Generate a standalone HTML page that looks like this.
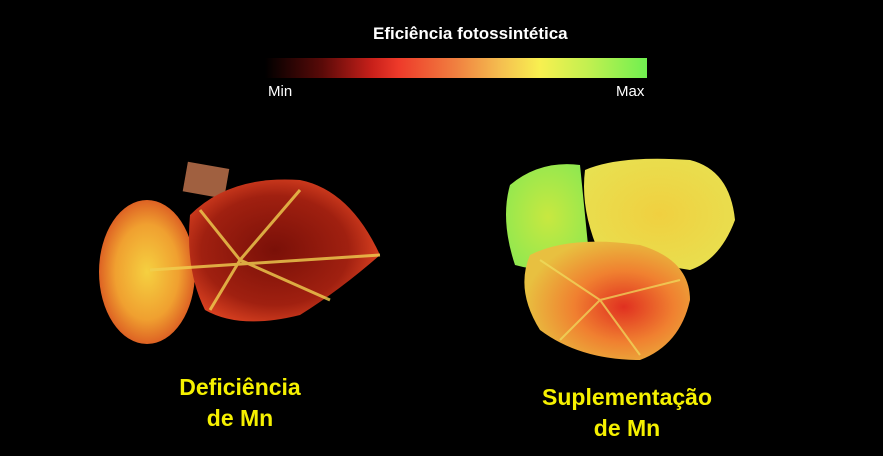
<!DOCTYPE html>
<html><head><meta charset="utf-8"><style>
html,body{margin:0;padding:0;background:#000;}
body{width:883px;height:456px;overflow:hidden;position:relative;font-family:"Liberation Sans",sans-serif;}
.t{position:absolute;color:#fff;font-size:17px;font-weight:bold;}
.l{position:absolute;color:#f5f000;font-size:23px;font-weight:bold;text-align:center;width:240px;}
</style></head><body>
<div class="t" style="left:373px;top:24px;">Eficiência fotossintética</div>
<div style="position:absolute;left:265px;top:58px;width:382px;height:20px;background:linear-gradient(90deg,#000 0%,#5a0a08 15%,#c8201a 28%,#ee3a2a 35%,#f08040 50%,#f5c050 62%,#f8f050 72%,#c0f050 85%,#70f050 100%);"></div>
<div class="t" style="left:268px;top:83px;font-weight:normal;font-size:15px;">Min</div>
<div class="t" style="left:616px;top:83px;font-weight:normal;font-size:15px;">Max</div>
<svg width="883" height="456" style="position:absolute;left:0;top:0">
<defs>
<radialGradient id="g1" cx="50%" cy="50%" r="55%"><stop offset="0" stop-color="#f5d040"/><stop offset="0.6" stop-color="#f0a030"/><stop offset="1" stop-color="#d85020"/></radialGradient>
<radialGradient id="g2" cx="45%" cy="50%" r="55%"><stop offset="0" stop-color="#7a1008"/><stop offset="0.7" stop-color="#a02010"/><stop offset="1" stop-color="#d84020"/></radialGradient>
<radialGradient id="g3" cx="50%" cy="50%" r="60%"><stop offset="0" stop-color="#c8e840"/><stop offset="1" stop-color="#90e850"/></radialGradient>
<radialGradient id="g4" cx="50%" cy="50%" r="60%"><stop offset="0" stop-color="#f0d040"/><stop offset="1" stop-color="#e8e050"/></radialGradient>
<radialGradient id="g5" cx="60%" cy="55%" r="60%"><stop offset="0" stop-color="#e03020"/><stop offset="0.5" stop-color="#f08030"/><stop offset="1" stop-color="#e8c040"/></radialGradient>
</defs>
<rect x="185" y="165" width="42" height="30" fill="#a06040" transform="rotate(10 205 180)"/>
<ellipse cx="147" cy="272" rx="48" ry="72" fill="url(#g1)"/>
<path d="M190 215 Q230 175 300 180 Q350 190 380 255 Q340 290 300 315 Q240 330 205 310 Q185 270 190 215Z" fill="url(#g2)"/>
<path d="M150 270 L380 255 M240 260 L200 210 M240 260 L300 190 M240 260 L330 300 M240 260 L210 310" stroke="#f0d050" stroke-width="3" fill="none" opacity="0.8"/>
<path d="M510 185 Q540 160 580 165 L590 265 Q550 275 515 265 Q500 220 510 185Z" fill="url(#g3)"/>
<path d="M585 170 Q620 155 690 160 Q730 170 735 220 Q720 260 690 270 L600 255 Q580 210 585 170Z" fill="url(#g4)"/>
<path d="M530 255 Q570 235 640 245 Q690 260 690 300 Q680 345 640 360 Q580 360 540 330 Q515 290 530 255Z" fill="url(#g5)"/>
<path d="M600 300 L540 260 M600 300 L680 280 M600 300 L640 355 M600 300 L560 340" stroke="#f0e060" stroke-width="2" fill="none" opacity="0.7"/>
</svg>
<div class="l" style="left:120px;top:374px;">Deficiência</div>
<div class="l" style="left:120px;top:405px;">de Mn</div>
<div class="l" style="left:507px;top:384px;">Suplementação</div>
<div class="l" style="left:507px;top:415px;">de Mn</div>
</body></html>
